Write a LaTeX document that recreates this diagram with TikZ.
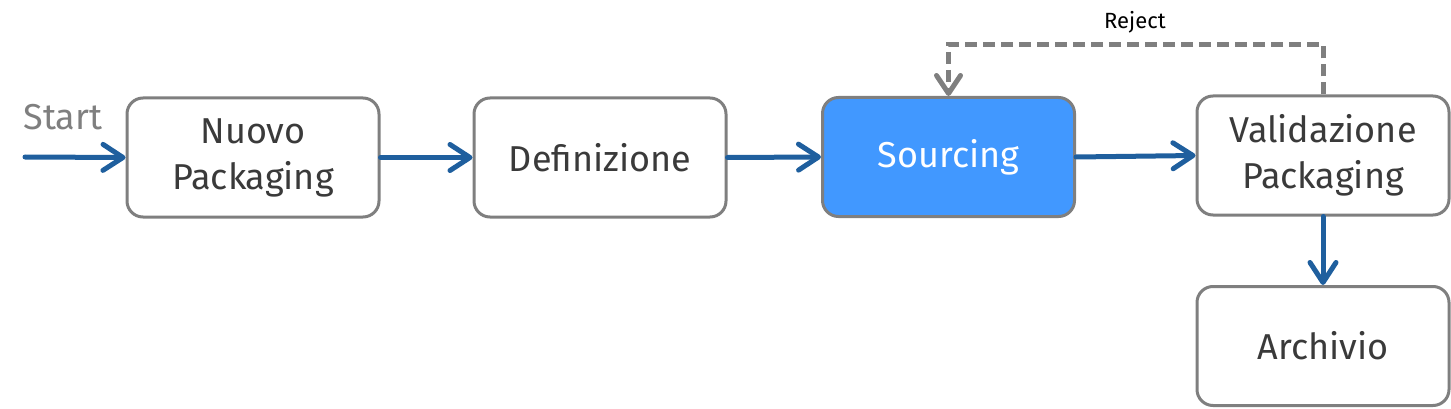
\documentclass[tikz,border=0pt]{standalone}
\usepackage{fontspec}
\setmainfont{Fira Sans}
\usetikzlibrary{arrows.meta}
\definecolor{boxgray}{HTML}{7F7F7F}
\definecolor{flowblue}{HTML}{1F5F9E}
\definecolor{srcblue}{HTML}{4198FF}
\definecolor{txt}{HTML}{3A3A3A}
\tikzset{
  stepbox/.style={draw=boxgray, line width=3pt, rounded corners=16pt, fill=white,
    minimum width=252pt, minimum height=119pt, align=center, text=txt,
    font=\fontsize{36}{46}\selectfont},
  flow/.style={draw=flowblue, line width=5pt, line cap=round,
    -{Straight Barb[length=20pt,width=26pt,line width=5pt,round]}},
  rej/.style={draw=boxgray, line width=5pt, dash pattern=on 12pt off 6pt,
    -{Straight Barb[length=18pt,width=24pt,line width=5pt,round]}},
}
\begin{document}
\begin{tikzpicture}[x=1pt,y=-1pt]
\useasboundingbox (0,0) rectangle (1451,409);
\node[stepbox] (nuovo) at (253,157.5) {Nuovo\\Packaging};
\node[stepbox] (def) at (600,157.5) {Definizione};
\node[stepbox, fill=srcblue, text=white] (src) at (948.5,157) {Sourcing};
\node[stepbox] (val) at (1323,155.5) {Validazione\\Packaging};
\node[stepbox] (arch) at (1323,346) {Archivio};
\node[text=boxgray, font=\fontsize{36}{40}\selectfont] (start) at (63,117) {Start};
\coordinate (s0) at (25,157);
\draw[flow] (s0) -- (nuovo.west);
\draw[flow] (nuovo.east) -- (def.west);
\draw[flow] (def.east) -- (src.west);
\draw[flow] (src.east) -- (val.west);
\draw[flow] (val.south) -- (arch.north);
\draw[rej] (val.north) -- ++(0,-50) -| (src.north);
\node[font=\fontsize{22}{26}\selectfont, text=black] (rejlbl) at (1135,22) {Reject};
\end{tikzpicture}
\end{document}
